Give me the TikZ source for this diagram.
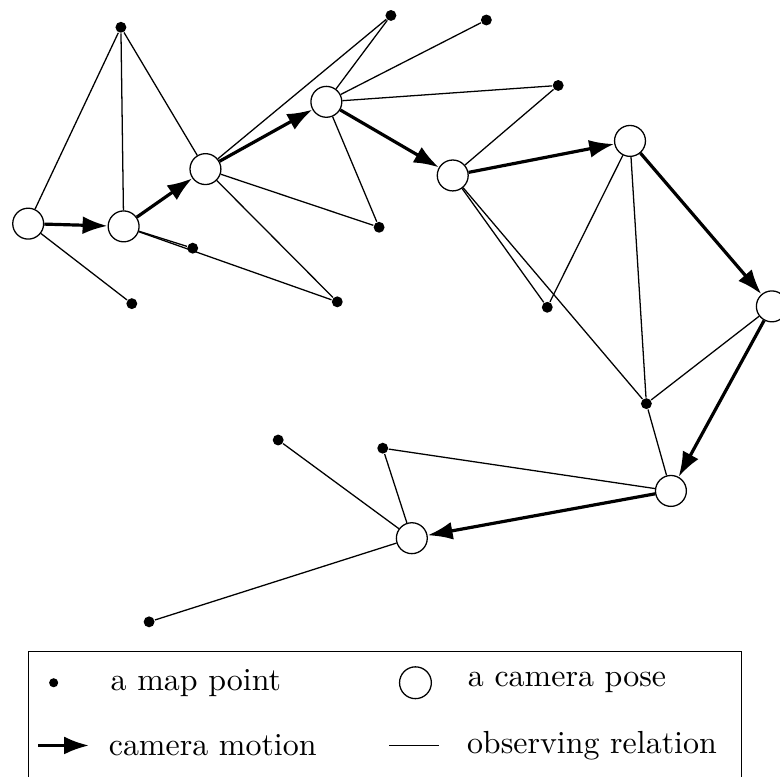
\documentclass[tikz,border=0pt]{standalone}
\usepackage{tikz}
\usetikzlibrary{arrows.meta,positioning}

\begin{document}
\begin{tikzpicture}[-,auto]
\tikzstyle{pose}=[circle,draw=black,fill=white,line width=0.4pt,minimum size=0.34cm,inner sep=0pt]
\tikzstyle{point}=[circle,fill=black,minimum size=0.12cm,inner sep=0pt]
\tikzstyle{motion}=[line width=1pt,-{Latex[length=7.8pt,width=5.6pt]}]
\tikzstyle{observe}=[line width=0.4pt]
\tikzstyle{legendtext}=[anchor=west,inner sep=0pt]
\useasboundingbox (0,0) rectangle (8.58,-8.54);
% camera poses
\node [pose] (c1) at(0.31,-2.46) {};
\node [pose] (c2) at(1.36,-2.49) {};
\node [pose] (c3) at(2.26,-1.86) {};
\node [pose] (c4) at(3.59,-1.12) {};
\node [pose] (c5) at(4.98,-1.93) {};
\node [pose] (c6) at(6.93,-1.55) {};
\node [pose] (c7) at(8.49,-3.37) {};
\node [pose] (c8) at(7.38,-5.40) {};
\node [pose] (c9) at(4.53,-5.92) {};
% map points
\node [point] (p1) at(1.33,-0.30) {};
\node [point] (p2) at(1.45,-3.34) {};
\node [point] (p3) at(2.12,-2.73) {};
\node [point] (p4) at(3.71,-3.32) {};
\node [point] (p5) at(4.30,-0.17) {};
\node [point] (p6) at(5.35,-0.22) {};
\node [point] (p7) at(6.14,-0.94) {};
\node [point] (p8) at(4.17,-2.50) {};
\node [point] (p9) at(6.02,-3.38) {};
\node [point] (p10) at(7.11,-4.44) {};
\node [point] (p11) at(3.06,-4.84) {};
\node [point] (p12) at(4.21,-4.93) {};
\node [point] (p13) at(1.64,-6.84) {};
% observing relations
\path [observe] (c1) edge (p1);
\path [observe] (c1) edge (p2);
\path [observe] (c2) edge (p1);
\path [observe] (c2) edge (p3);
\path [observe] (c2) edge (p4);
\path [observe] (c3) edge (p1);
\path [observe] (c3) edge (p4);
\path [observe] (c3) edge (p5);
\path [observe] (c3) edge (p8);
\path [observe] (c4) edge (p5);
\path [observe] (c4) edge (p6);
\path [observe] (c4) edge (p7);
\path [observe] (c4) edge (p8);
\path [observe] (c5) edge (p7);
\path [observe] (c5) edge (p9);
\path [observe] (c5) edge (p10);
\path [observe] (c6) edge (p9);
\path [observe] (c6) edge (p10);
\path [observe] (c7) edge (p10);
\path [observe] (c8) edge (p10);
\path [observe] (c8) edge (p12);
\path [observe] (c9) edge (p11);
\path [observe] (c9) edge (p12);
\path [observe] (c9) edge (p13);
% camera motion
\path [motion] (c1) edge (c2);
\path [motion] (c2) edge (c3);
\path [motion] (c3) edge (c4);
\path [motion] (c4) edge (c5);
\path [motion] (c5) edge (c6);
\path [motion] (c6) edge (c7);
\path [motion] (c7) edge (c8);
\path [motion] (c8) edge (c9);
% legend
\draw [line width=0.4pt] (0.31,-8.80) -- (0.31,-7.17) -- (8.16,-7.17) -- (8.16,-8.80);
\node [point,minimum size=0.10cm] (lpoint) at(0.59,-7.51) {};
\node [legendtext] (lpointtext) at(1.21,-7.51) {a map point};
\node [pose,minimum size=0.35cm] (lpose) at(4.57,-7.51) {};
\node [legendtext] (lposetext) at(5.14,-7.51) {a camera pose};
\coordinate (lm1) at(0.42,-8.20);
\coordinate (lm2) at(0.98,-8.20);
\path [motion] (lm1) edge (lm2);
\node [legendtext] (lmotiontext) at(1.19,-8.20) {camera motion};
\coordinate (lo1) at(4.28,-8.20);
\coordinate (lo2) at(4.83,-8.20);
\path [observe] (lo1) edge (lo2);
\node [legendtext] (lobservetext) at(5.13,-8.20) {observing relation};
\end{tikzpicture}
\end{document}
